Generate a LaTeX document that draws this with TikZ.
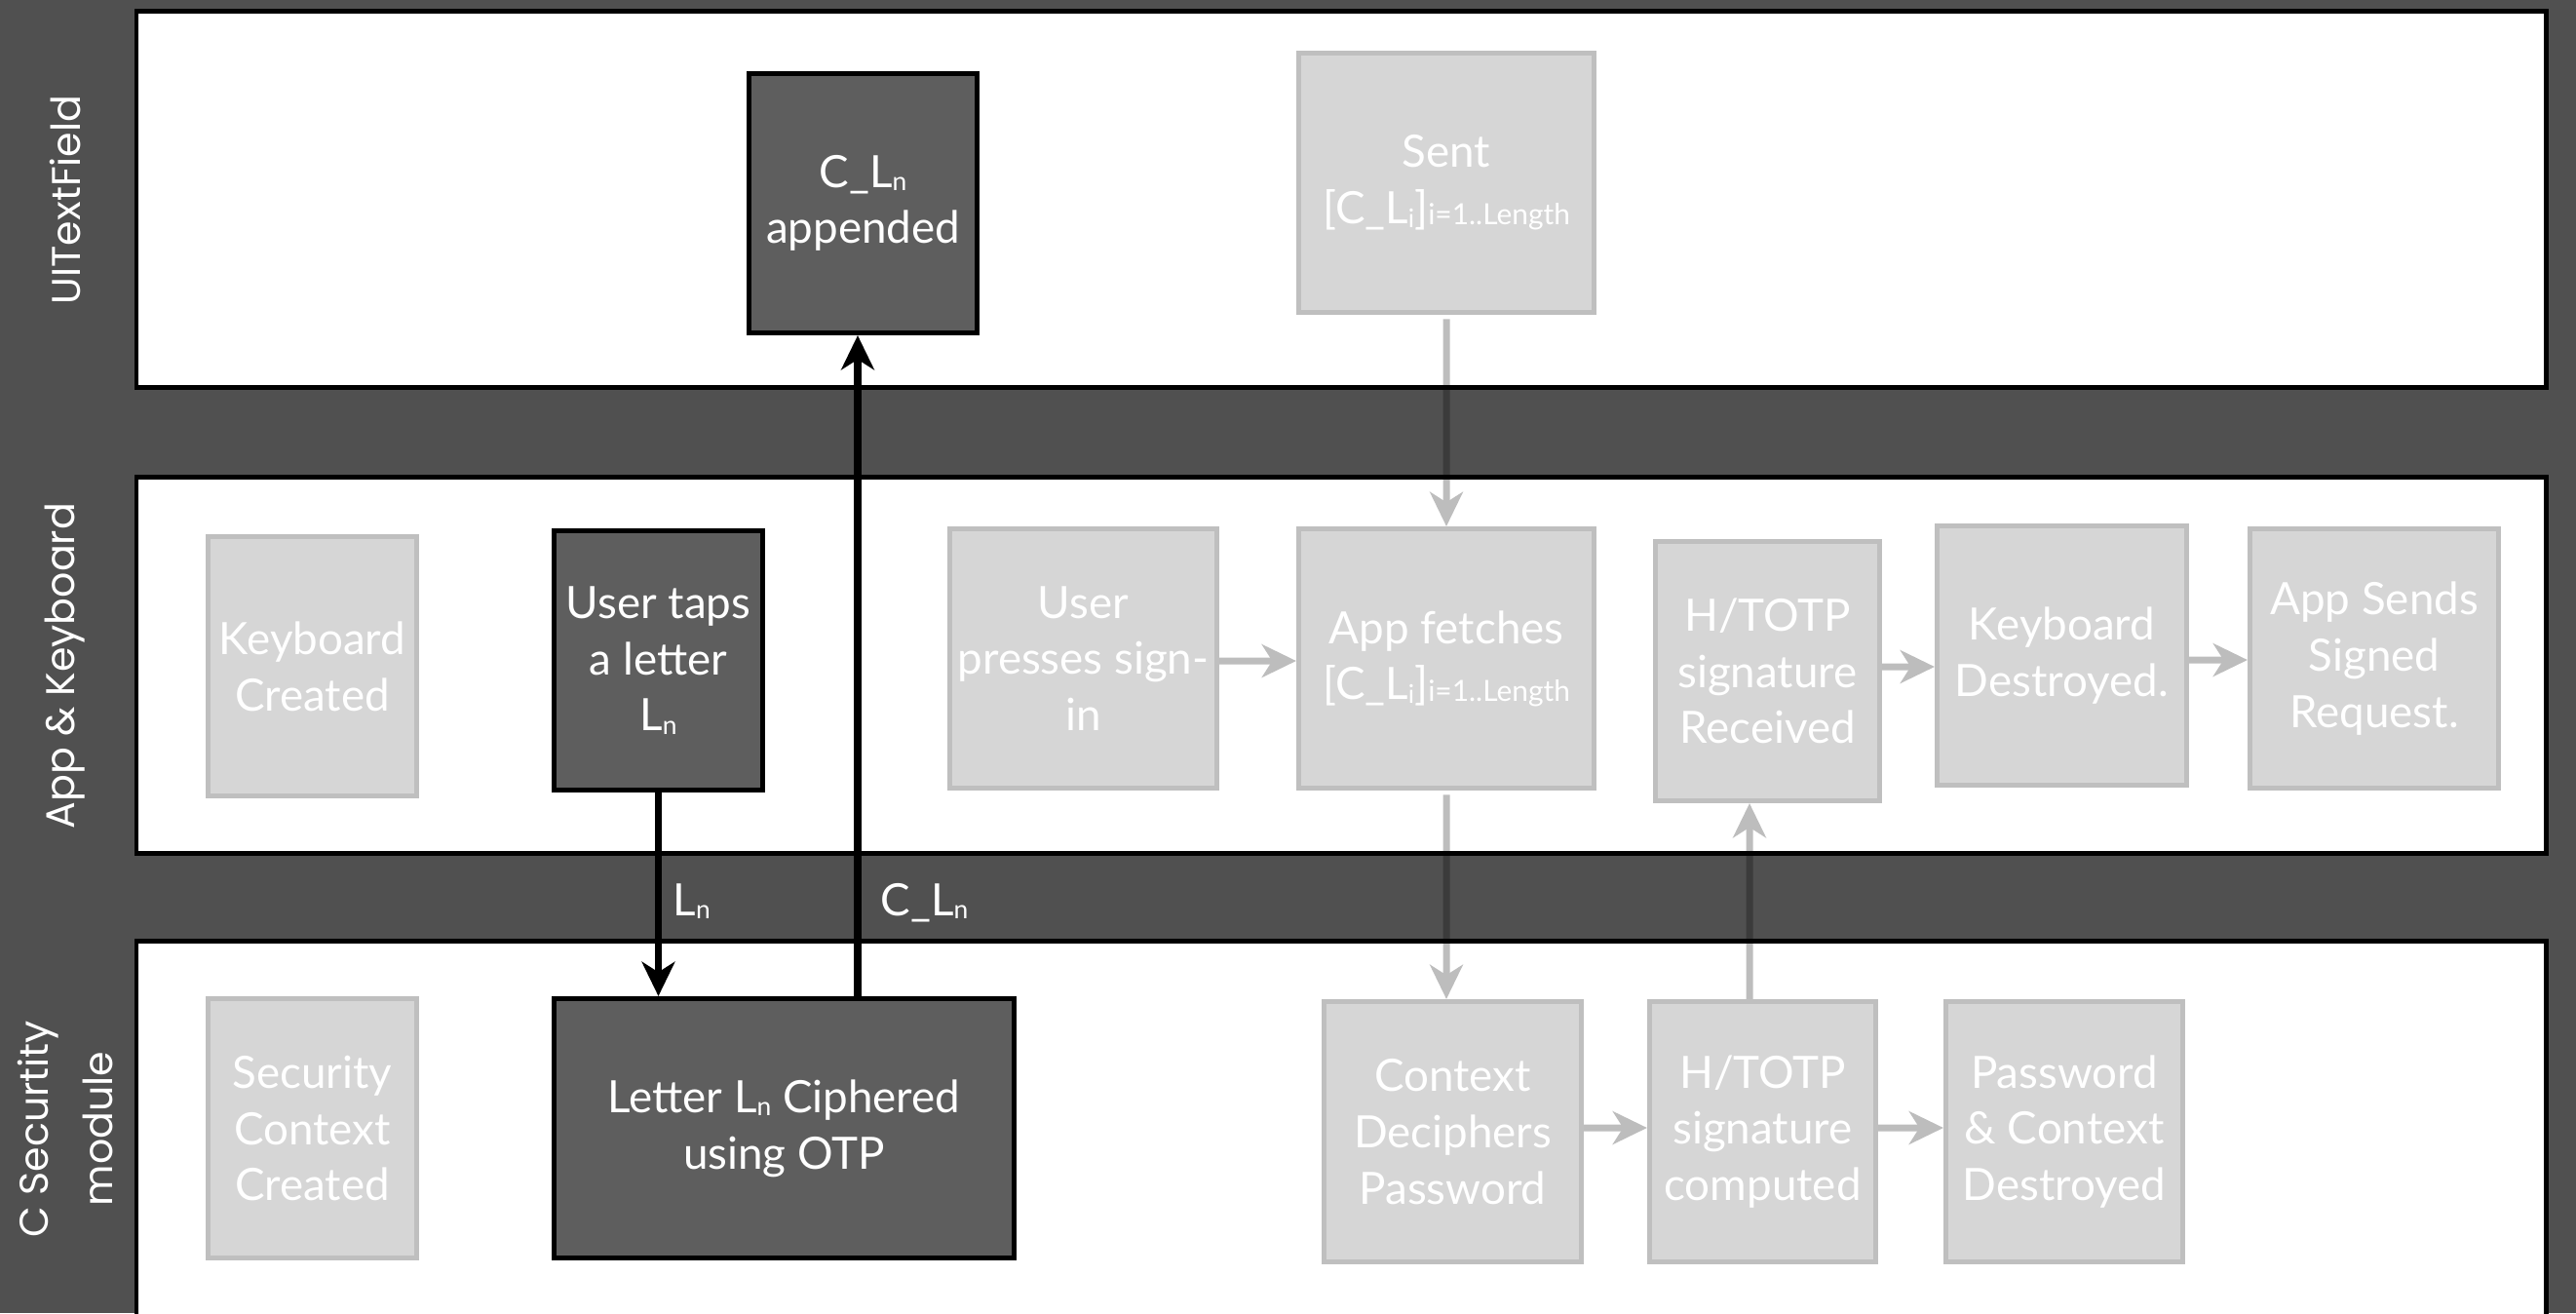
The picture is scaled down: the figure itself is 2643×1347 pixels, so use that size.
\documentclass[tikz,border=0pt]{standalone}
\usepackage{fontspec}
\setmainfont{Lato}
\newfontfamily\lanefont{Poppins}
\usetikzlibrary{arrows.meta}

\definecolor{bandgray}{HTML}{505050}
\definecolor{darkfill}{HTML}{5E5E5E}
\definecolor{lightfill}{HTML}{D6D6D6}
\definecolor{lightedge}{HTML}{BFBFBF}

% small lowered index, e.g. the n of L_n
\newcommand\lowidx[1]{\raisebox{-1pt}{\fontsize{7.5}{7.5}\selectfont #1}}
% index range written after a bracket
\newcommand\rangeidx[1]{\raisebox{-0.4pt}{\fontsize{8.5}{8.5}\selectfont #1}}

\begin{document}
\begin{tikzpicture}[x=0.01cm, y=-0.01cm,
  lane/.style={fill=white, draw=black, line width=1.42pt},
  lanelabel/.style={text=white, rotate=90, align=center,
    font=\lanefont\fontsize{11.7}{18.5}\selectfont},
  stage/.style={rectangle, line width=1.42pt, text=white, align=center,
    inner sep=2pt, font=\fontsize{13}{16.4}\selectfont},
  active/.style={stage, fill=darkfill, draw=black},
  faded/.style={stage, fill=lightfill, draw=lightedge},
  bandtext/.style={text=white, inner sep=0pt, font=\fontsize{13}{16.4}\selectfont},
  flow/.style={line width=2pt, -{Stealth[length=10pt, width=9.6pt, inset=3pt]}}]

% page and swim lanes
\fill[bandgray] (0,0) rectangle (2643,1347);
\useasboundingbox (0,0) rectangle (2643,1347);
\draw[lane] (140,11.5) rectangle (2612,397.5);
\draw[lane] (140,489.5) rectangle (2612,875.5);
\filldraw[lane] (140,1365) -- (140,965.5) -- (2612,965.5) -- (2612,1365);

\node[lanelabel] (lblfield) at (67,205) {UITextField};
\node[lanelabel] (lblapp) at (67,683) {App \& Keyboard};
\node[lanelabel] (lblsec) at (67,1158) {C Securtity\\module};

% UITextField lane
\node[active, minimum width=2.34cm, minimum height=2.66cm] (appended) at (885.5,208.5)
  {C\_L\lowidx{n}\\appended};
\node[faded, minimum width=3.03cm, minimum height=2.66cm] (sent) at (1484,187.5)
  {Sent\\{}[C\_L\lowidx{i}]\rangeidx{i=1..Length}};

% App & Keyboard lane
\node[faded, minimum width=2.14cm, minimum height=2.66cm] (kbcreate) at (320.5,683.5)
  {Keyboard\\Created};
\node[active, minimum width=2.14cm, minimum height=2.66cm] (tap) at (675.5,677.5)
  {User taps\\a letter\\L\lowidx{n}};
\node[faded, minimum width=2.74cm, minimum height=2.66cm] (press) at (1111.5,675.5)
  {User\\presses sign-\\in};
\node[faded, minimum width=3.03cm, minimum height=2.66cm] (fetch) at (1484,675.5)
  {App fetches\\{}[C\_L\lowidx{i}]\rangeidx{i=1..Length}};
\node[faded, minimum width=2.30cm, minimum height=2.66cm] (recv) at (1813.5,688.5)
  {H/TOTP\\signature\\Received};
\node[faded, minimum width=2.56cm, minimum height=2.66cm] (kbdestroy) at (2115.5,672.5)
  {Keyboard\\Destroyed.};
\node[faded, minimum width=2.55cm, minimum height=2.66cm] (sendreq) at (2436,675.5)
  {App Sends\\Signed\\Request.};

% C security module lane
\node[faded, minimum width=2.14cm, minimum height=2.66cm] (sccreate) at (320.5,1157.5)
  {Security\\Context\\Created};
\node[active, minimum width=4.72cm, minimum height=2.66cm] (cipher) at (804.5,1157.5)
  {Letter L\lowidx{n} Ciphered\\using OTP};
\node[faded, minimum width=2.64cm, minimum height=2.67cm] (decipher) at (1490.5,1161)
  {Context\\Deciphers\\Password};
\node[faded, minimum width=2.32cm, minimum height=2.67cm] (compute) at (1808.5,1161)
  {H/TOTP\\signature\\computed};
\node[faded, minimum width=2.43cm, minimum height=2.67cm] (pwdestroy) at (2118,1161)
  {Password\\\& Context\\Destroyed};

% labels on the band between the lanes
\node[bandtext, anchor=base west] (lnlabel) at (690,939) {L\lowidx{n}};
\node[bandtext, anchor=base west] (cllabel) at (903,939) {C\_L\lowidx{n}};

% highlighted flow
\draw[flow, draw=black] (tap.south) -- (tap.south |- cipher.north);
\draw[flow, draw=black] ([xshift=-0.055cm]appended.south |- cipher.north)
  -- ([xshift=-0.055cm]appended.south);

% faded flow
\begin{scope}[transparency group, opacity=0.26]
  \draw[flow] ([yshift=-1.2pt]sent.south) -- (sent.south |- fetch.north);
  \draw[flow] ([yshift=-1.2pt]fetch.south) -- (fetch.south |- decipher.north);
  \draw[flow] ([xshift=-0.135cm]compute.north) -- ([xshift=-0.135cm]compute.north |- recv.south);
  \draw[flow] ([yshift=-0.025cm]press.east) -- ([yshift=-0.025cm]press.east -| fetch.west);
  \draw[flow] ([yshift=0.045cm]recv.east) -- ([yshift=0.045cm]recv.east -| kbdestroy.west);
  \draw[flow] ([yshift=-0.045cm]kbdestroy.east) -- ([yshift=-0.045cm]kbdestroy.east -| sendreq.west);
  \draw[flow] ([yshift=0.04cm]decipher.east) -- ([yshift=0.04cm]decipher.east -| compute.west);
  \draw[flow] ([yshift=0.04cm]compute.east) -- ([yshift=0.04cm]compute.east -| pwdestroy.west);
\end{scope}
\end{tikzpicture}
\end{document}
